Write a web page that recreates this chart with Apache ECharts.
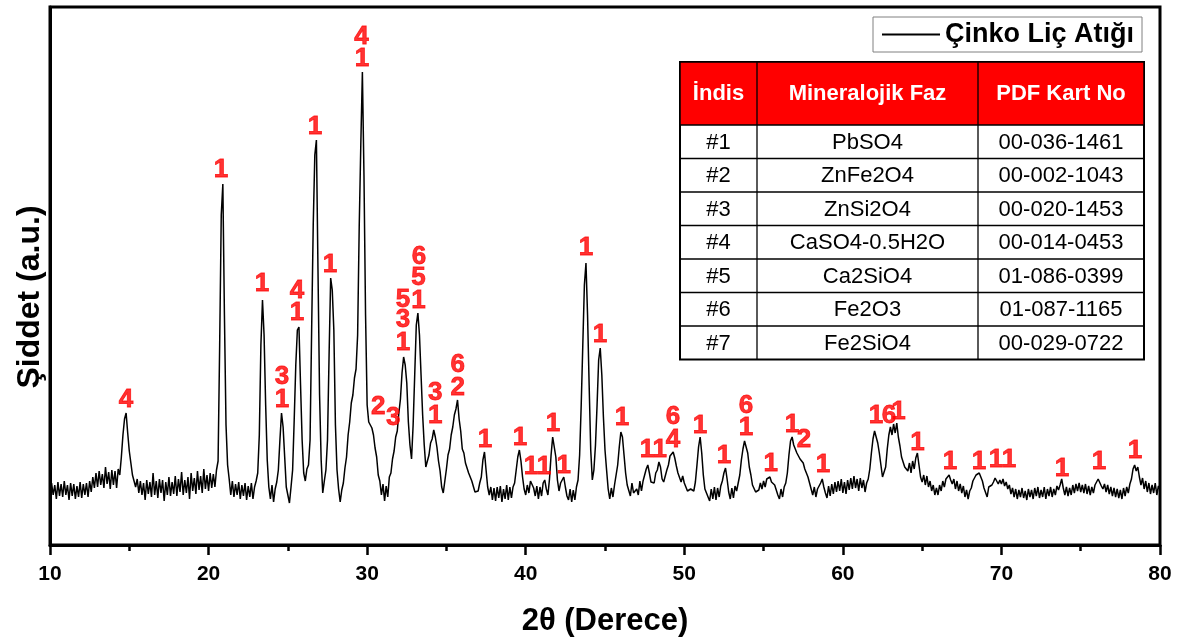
<!DOCTYPE html>
<html>
<head>
<meta charset="utf-8">
<script src="https://cdn.jsdelivr.net/npm/echarts@6/dist/echarts.min.js"></script>
<style>
  html, body { margin: 0; padding: 0; background: #fff; }
  #chart { width: 1179px; height: 643px; }
</style>
</head>
<body>
<div id="chart"></div>
<script>
// XRD pattern of zinc leach residue, 2θ = 10–80°, step 0.1°.
// Intensities in arbitrary units, one array per 10° block.
const step = 0.1;
const seg10 = [
  47, 62, 50, 60, 46, 63, 49, 61, 48, 64,
  50, 60, 45, 62, 49, 61, 46, 59, 48, 63,
  47, 61, 50, 62, 48, 64, 53, 68, 57, 72,
  58, 74, 60, 71, 57, 78, 61, 73, 56, 75,
  60, 74, 57, 76, 70, 88, 110, 126, 132, 112,
  94, 82, 70, 68, 58, 66, 52, 64, 50, 62,
  45, 65, 51, 63, 48, 72, 50, 64, 47, 66,
  52, 65, 44, 63, 50, 68, 49, 63, 51, 69,
  49, 66, 53, 73, 50, 65, 52, 68, 46, 72,
  54, 67, 51, 74, 55, 69, 52, 76, 56, 70
];
const seg20 = [
  54, 72, 57, 71, 58, 75, 84, 200, 330, 361,
  230, 120, 80, 66, 50, 64, 48, 61, 50, 63,
  46, 60, 49, 62, 45, 59, 48, 62, 46, 58,
  64, 72, 110, 200, 245, 210, 140, 85, 58, 46,
  60, 43, 56, 63, 75, 105, 132, 118, 88, 58,
  50, 42, 58, 75, 125, 180, 215, 218, 160, 105,
  72, 64, 76, 80, 105, 215, 320, 390, 405, 275,
  150, 85, 52, 64, 75, 105, 190, 267, 255, 215,
  120, 75, 56, 43, 55, 62, 77, 88, 110, 123,
  142, 150, 167, 176, 210, 318, 400, 473, 370, 230
];
const seg30 = [
  140, 123, 120, 117, 110, 97, 88, 70, 64, 50,
  61, 44, 59, 48, 68, 72, 86, 94, 108, 114,
  132, 146, 172, 188, 180, 162, 123, 100, 86, 120,
  170, 220, 232, 210, 170, 130, 100, 78, 80, 90,
  102, 106, 115, 108, 98, 84, 74, 58, 52, 64,
  76, 90, 96, 110, 118, 130, 136, 145, 126, 114,
  96, 92, 82, 82, 72, 74, 64, 64, 53, 52,
  54, 62, 68, 85, 93, 75, 58, 50, 58, 45,
  57, 44, 58, 47, 59, 43, 56, 46, 60, 45,
  58, 47, 58, 62, 75, 88, 95, 84, 68, 56
];
const seg40 = [
  50, 60, 52, 64, 65, 57, 49, 59, 46, 58,
  49, 62, 65, 56, 50, 66, 90, 108, 110, 88,
  65, 54, 62, 63, 68, 58, 49, 45, 56, 43,
  55, 45, 58, 65, 90, 140, 200, 260, 282, 230,
  160, 95, 65, 75, 100, 140, 185, 197, 170, 128,
  95, 75, 56, 46, 57, 48, 60, 62, 80, 98,
  113, 108, 90, 72, 60, 58, 49, 62, 52, 53,
  56, 50, 64, 54, 64, 66, 76, 80, 72, 63,
  62, 62, 72, 75, 83, 78, 66, 63, 64, 75,
  80, 89, 88, 93, 87, 79, 72, 71, 63, 69
];
const seg50 = [
  62, 61, 54, 53, 56, 55, 54, 63, 80, 98,
  108, 92, 70, 56, 52, 53, 44, 56, 46, 58,
  45, 57, 48, 59, 64, 72, 77, 66, 53, 46,
  57, 47, 59, 54, 62, 70, 85, 96, 104, 106,
  92, 78, 70, 60, 60, 53, 54, 55, 62, 56,
  64, 58, 66, 65, 68, 63, 61, 60, 58, 50,
  46, 56, 48, 58, 62, 72, 90, 104, 108, 100,
  96, 92, 90, 86, 84, 82, 76, 72, 68, 62,
  60, 50, 58, 48, 56, 58, 62, 66, 58, 52,
  47, 59, 49, 61, 51, 63, 53, 64, 54, 66
];
const seg60 = [
  52, 63, 51, 65, 55, 67, 56, 69, 57, 66,
  54, 67, 57, 65, 53, 62, 66, 76, 92, 106,
  114, 116, 102, 92, 80, 68, 66, 78, 96, 110,
  118, 110, 121, 112, 122, 108, 99, 88, 86, 78,
  80, 74, 82, 72, 84, 76, 87, 92, 80, 68,
  63, 70, 60, 69, 58, 64, 54, 60, 50, 57,
  50, 60, 54, 64, 58, 66, 65, 70, 65, 61,
  66, 56, 64, 54, 61, 52, 59, 48, 55, 46,
  54, 57, 64, 67, 70, 72, 72, 68, 64, 57,
  56, 48, 58, 59, 60, 63, 67, 68, 61, 65
];
const seg70 = [
  61, 66, 59, 63, 56, 60, 51, 57, 48, 56,
  46, 55, 48, 57, 47, 54, 45, 56, 48, 55,
  46, 57, 49, 58, 47, 55, 48, 58, 46, 56,
  49, 58, 48, 56, 50, 59, 55, 60, 66, 57,
  50, 58, 49, 57, 50, 60, 52, 61, 54, 62,
  53, 60, 52, 61, 51, 59, 50, 58, 52, 60,
  60, 66, 68, 59, 56, 61, 53, 60, 51, 58,
  49, 57, 48, 56, 47, 55, 46, 57, 49, 58,
  52, 61, 66, 76, 80, 74, 78, 68, 60, 67,
  56, 64, 53, 62, 51, 60, 52, 62, 50, 59,
  55
];
const segments = [[10, seg10], [20, seg20], [30, seg30], [40, seg40], [50, seg50], [60, seg60], [70, seg70]];

// Phase index marks: [2θ, intensity, phase number]
const phaseMarks = [
  [14.79, 145, '4'],
  [20.78, 375, '1'],
  [23.37, 261, '1'],
  [24.63, 168, '3'], [24.63, 145, '1'],
  [25.58, 254, '4'], [25.58, 232, '1'],
  [26.71, 418, '1'],
  [27.66, 280, '1'],
  [29.65, 508, '4'], [29.67, 486, '1'],
  [30.70, 138, '2'],
  [31.65, 127, '3'],
  [32.26, 245, '5'], [32.26, 225, '3'], [32.26, 202, '1'],
  [33.27, 288, '6'], [33.24, 267, '5'], [33.24, 244, '1'],
  [34.30, 152, '3'], [34.30, 129, '1'],
  [35.72, 180, '6'], [35.72, 157, '2'],
  [37.43, 105, '1'],
  [39.64, 107, '1'],
  [40.33, 78, '1'], [41.15, 78, '1'],
  [41.72, 121, '1'],
  [42.40, 79, '1'],
  [43.80, 297, '1'],
  [44.69, 210, '1'],
  [46.07, 127, '1'],
  [47.65, 95, '1'], [48.45, 95, '1'],
  [49.29, 128, '6'], [49.29, 105, '4'],
  [50.99, 119, '1'],
  [52.50, 89, '1'],
  [53.89, 139, '6'], [53.89, 117, '1'],
  [55.45, 81, '1'],
  [56.79, 120, '1'], [57.55, 105, '2'],
  [58.75, 80, '1'],
  [62.09, 129, '1'], [62.91, 129, '6'], [63.50, 133, '1'],
  [64.70, 102, '1'],
  [66.76, 83, '1'],
  [68.59, 83, '1'],
  [69.66, 85, '1'], [70.48, 85, '1'],
  [73.82, 76, '1'],
  [76.15, 83, '1'],
  [78.42, 94, '1']
];

// Phase identification table
const tableHeader = ['İndis', 'Mineralojik Faz', 'PDF Kart No'];
const phaseIds = ['#1', '#2', '#3', '#4', '#5', '#6', '#7'];
const phaseNames = ['PbSO4', 'ZnFe2O4', 'ZnSi2O4', 'CaSO4-0.5H2O', 'Ca2SiO4', 'Fe2O3', 'Fe2SiO4'];
const pdfCards = ['00-036-1461', '00-002-1043', '00-020-1453', '00-014-0453', '01-086-0399', '01-087-1165', '00-029-0722'];

const xTicks = [10, 20, 30, 40, 50, 60, 70, 80];

const FONT = '"Liberation Sans", Arial, Helvetica, sans-serif';

const pattern = [];
segments.forEach(([start, vals]) => {
  vals.forEach((v, i) => pattern.push([+(start + i * step).toFixed(1), v]));
});

// table drawn as graphic elements
const colEdges = [680, 757, 978, 1144];
const headTop = 62, headH = 63, rowH = 33.5;
const tableBottom = headTop + headH + rowH * phaseIds.length;
const overlay = [];
overlay.push({ type: 'rect', shape: { x: colEdges[0], y: headTop, width: colEdges[3] - colEdges[0], height: tableBottom - headTop }, style: { fill: '#fff', stroke: '#000', lineWidth: 2 } });
overlay.push({ type: 'rect', shape: { x: colEdges[0], y: headTop, width: colEdges[3] - colEdges[0], height: headH }, style: { fill: '#ff0000', stroke: '#000', lineWidth: 1.5 } });
for (let r = 1; r < phaseIds.length; r++) {
  const y = headTop + headH + r * rowH;
  overlay.push({ type: 'line', shape: { x1: colEdges[0], y1: y, x2: colEdges[3], y2: y }, style: { stroke: '#000', lineWidth: 1.3 } });
}
[1, 2].forEach(c => {
  overlay.push({ type: 'line', shape: { x1: colEdges[c], y1: headTop, x2: colEdges[c], y2: tableBottom }, style: { stroke: '#000', lineWidth: 1.3 } });
});
tableHeader.forEach((t, c) => {
  overlay.push({ type: 'text', style: { text: t, x: (colEdges[c] + colEdges[c + 1]) / 2, y: headTop + headH / 2, textAlign: 'center', textVerticalAlign: 'middle', verticalAlign: 'middle', fill: '#fff', font: 'bold 22px ' + FONT } });
});
const columns = [phaseIds, phaseNames, pdfCards];
columns.forEach((col, c) => {
  col.forEach((t, r) => {
    overlay.push({ type: 'text', style: { text: t, x: (colEdges[c] + colEdges[c + 1]) / 2, y: headTop + headH + r * rowH + rowH / 2 + 1, textAlign: 'center', textVerticalAlign: 'middle', verticalAlign: 'middle', fill: '#000', font: '22px ' + FONT } });
  });
});
// vertical axis title
overlay.push({ type: 'text', x: 30, y: 297, rotation: Math.PI / 2, style: { text: 'Şiddet (a.u.)', x: 0, y: 0, textAlign: 'center', textVerticalAlign: 'middle', verticalAlign: 'middle', fill: '#000', font: 'bold 32px ' + FONT } });

const chart = echarts.init(document.getElementById('chart'), null, { renderer: 'canvas' });
chart.setOption({
  animation: false,
  backgroundColor: '#fff',
  grid: { left: 50, right: 19, top: 7, bottom: 98, show: true, borderColor: '#000', borderWidth: 3, containLabel: false },
  legend: {
    left: 873, top: 17,
    padding: [4, 8, 4, 9],
    borderColor: '#808080', borderWidth: 1,
    itemWidth: 58, itemHeight: 2, icon: 'rect',
    selectedMode: false,
    textStyle: { fontFamily: FONT, fontWeight: 'bold', fontSize: 27, color: '#000', lineHeight: 26 },
    data: ['Çinko Liç Atığı']
  },
  xAxis: {
    type: 'value', min: xTicks[0], max: xTicks[xTicks.length - 1], interval: 10,
    name: '2θ (Derece)', nameLocation: 'middle', nameGap: 61,
    nameTextStyle: { fontFamily: FONT, fontWeight: 'bold', fontSize: 31, color: '#000' },
    axisLine: { show: true, lineStyle: { color: '#000', width: 3 } },
    axisTick: { show: true, inside: false, length: 10, lineStyle: { color: '#000', width: 2.5 } },
    minorTick: { show: true, splitNumber: 2, length: 6, lineStyle: { color: '#000', width: 2.5 } },
    axisLabel: { margin: 19, fontFamily: FONT, fontWeight: 'bold', fontSize: 21, color: '#000' },
    splitLine: { show: false }
  },
  yAxis: {
    type: 'value', min: 0, max: 538,
    axisLine: { show: true, lineStyle: { color: '#000', width: 3 } },
    axisTick: { show: false },
    axisLabel: { show: false },
    splitLine: { show: false }
  },
  series: [
    {
      name: 'Çinko Liç Atığı',
      type: 'line',
      data: pattern,
      showSymbol: false,
      symbol: 'none',
      lineStyle: { color: '#000', width: 1.5 },
      itemStyle: { color: '#000' },
      z: 2
    },
    {
      type: 'scatter',
      data: phaseMarks,
      symbolSize: 1,
      itemStyle: { color: 'rgba(0,0,0,0)' },
      label: {
        show: true, position: 'inside',
        formatter: p => p.data[2],
        fontFamily: FONT, fontWeight: 'bold', fontSize: 26, color: '#ff0000',
        textBorderColor: '#ff0000', textBorderWidth: 0.8, textShadowBlur: 0
      },
      z: 5
    }
  ],
  graphic: { elements: overlay }
});
</script>
</body>
</html>
